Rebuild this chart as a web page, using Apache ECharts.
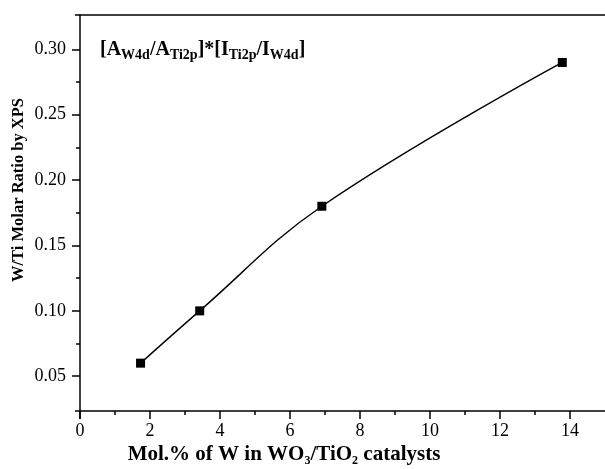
<!DOCTYPE html>
<html>
<head>
<meta charset="utf-8">
<script src="https://cdn.jsdelivr.net/npm/echarts@6/dist/echarts.min.js"></script>
<style>
  html, body { margin: 0; padding: 0; background: #ffffff; }
  #chart { width: 605px; height: 469px; }
</style>
</head>
<body>
<div id="chart"></div>
<script>
// W loading of the WO3/TiO2 catalysts (mol.% W) and the XPS W/Ti molar ratio
const molPercentW = [1.73, 3.42, 6.91, 13.78];
const wTiRatio = [0.06, 0.10, 0.18, 0.29];

// axis ticks
const xMajorTicks = [0, 2, 4, 6, 8, 10, 12, 14];
const xMinorTicks = [1, 3, 5, 7, 9, 11, 13];
const yMajorTicks = [0.05, 0.10, 0.15, 0.20, 0.25, 0.30];
const yMinorTicks = [0.075, 0.125, 0.175, 0.225, 0.275];

const SERIF = '"Liberation Serif", "Times New Roman", serif';
const INK = '#000000';
const AXIS_W = 1.5;

const xRange = { min: 0, max: 15 };
const yRange = { min: 0.0234, max: 0.3263 };

const chart = echarts.init(document.getElementById('chart'), null, { renderer: 'canvas' });

const baseAxis = {
  type: 'value',
  splitLine: { show: false },
  axisLine: { show: false },
  axisTick: { show: false },
  axisLabel: { show: false }
};

chart.setOption({
  backgroundColor: '#ffffff',
  animation: false,
  grid: { left: 80, right: -3, top: 15, bottom: 58 },
  xAxis: [
    Object.assign({}, baseAxis, xRange, {
      position: 'bottom',
      axisLine: { show: true, onZero: false, lineStyle: { color: INK, width: AXIS_W } },
      axisTick: { show: true, customValues: xMajorTicks, length: 8, lineStyle: { color: INK, width: AXIS_W } },
      axisLabel: { show: true, customValues: xMajorTicks, margin: 11, color: INK, fontFamily: SERIF, fontSize: 18 }
    }),
    Object.assign({}, baseAxis, xRange, {
      position: 'bottom',
      axisTick: { show: true, customValues: xMinorTicks, length: 4, lineStyle: { color: INK, width: AXIS_W } }
    }),
    Object.assign({}, baseAxis, xRange, {
      position: 'top',
      axisLine: { show: true, onZero: false, lineStyle: { color: INK, width: AXIS_W } }
    })
  ],
  yAxis: [
    Object.assign({}, baseAxis, yRange, {
      position: 'left',
      axisLine: { show: true, onZero: false, lineStyle: { color: INK, width: AXIS_W } },
      axisTick: { show: true, customValues: yMajorTicks, length: 8, lineStyle: { color: INK, width: AXIS_W } },
      axisLabel: {
        show: true, customValues: yMajorTicks, margin: 14, color: INK,
        fontFamily: SERIF, fontSize: 18,
        formatter: v => v.toFixed(2)
      }
    }),
    Object.assign({}, baseAxis, yRange, {
      position: 'left',
      axisTick: { show: true, customValues: yMinorTicks, length: 4, lineStyle: { color: INK, width: AXIS_W } }
    })
  ],
  series: [{
    type: 'line',
    xAxisIndex: 0,
    yAxisIndex: 0,
    data: molPercentW.map((x, i) => [x, wTiRatio[i]]),
    smooth: 0.4,
    symbol: 'rect',
    symbolSize: 9,
    itemStyle: { color: INK },
    lineStyle: { color: INK, width: 1.4 },
    z: 3
  }],
  graphic: [
    // axis overhangs at the corners of the frame
    { type: 'line', shape: { x1: 75, y1: 411, x2: 80, y2: 411 }, style: { stroke: INK, lineWidth: AXIS_W } },
    { type: 'line', shape: { x1: 80, y1: 411, x2: 80, y2: 419 }, style: { stroke: INK, lineWidth: AXIS_W } },
    { type: 'line', shape: { x1: 75, y1: 15, x2: 80, y2: 15 }, style: { stroke: INK, lineWidth: AXIS_W } },
    // y axis title
    {
      type: 'text', x: 19, y: 190, rotation: Math.PI / 2,
      style: {
        text: 'W/Ti Molar Ratio by XPS',
        font: 'bold 16.5px ' + SERIF, fill: INK,
        align: 'center', verticalAlign: 'middle'
      }
    },
    // x axis title
    {
      type: 'text', x: 284, y: 455,
      style: {
        text: '{m|Mol.% of W in WO}{s|3}{m|/TiO}{s|2}{m| catalysts}',
        align: 'center', verticalAlign: 'middle', fill: INK,
        rich: {
          m: { fontFamily: SERIF, fontWeight: 'bold', fontSize: 21, lineHeight: 24, fill: INK },
          s: { fontFamily: SERIF, fontWeight: 'bold', fontSize: 12, lineHeight: 12, verticalAlign: 'bottom', fill: INK }
        }
      }
    },
    // intensity-ratio formula
    {
      type: 'text', x: 100, y: 50,
      style: {
        text: '{m|[A}{s|W4d}{m|/A}{s|Ti2p}{m|]*[I}{s|Ti2p}{m|/I}{s|W4d}{m|]}',
        align: 'left', verticalAlign: 'middle', fill: INK,
        rich: {
          m: { fontFamily: SERIF, fontWeight: 'bold', fontSize: 20, lineHeight: 24, fill: INK },
          s: { fontFamily: SERIF, fontWeight: 'bold', fontSize: 14, lineHeight: 14, verticalAlign: 'bottom', fill: INK }
        }
      }
    }
  ]
});
</script>
</body>
</html>
